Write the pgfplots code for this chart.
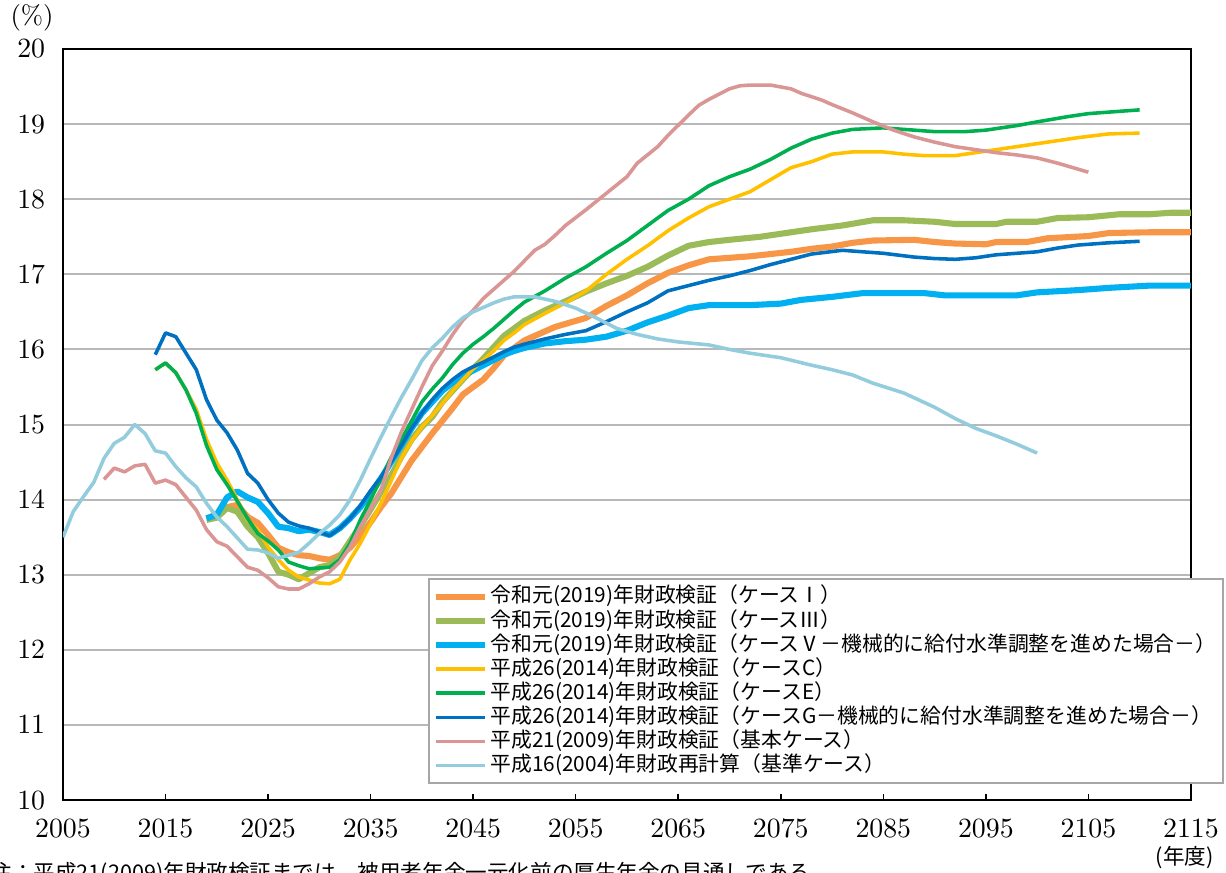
\documentclass[border=0pt]{standalone}
\usepackage{fontspec}
\usepackage{pgfplots}
\pgfplotsset{compat=1.18}
\newfontfamily\jp{Noto Sans CJK JP}

\definecolor{cI}{HTML}{F79646}
\definecolor{cIII}{HTML}{9BBB59}
\definecolor{cV}{HTML}{00B0F0}
\definecolor{cC}{HTML}{FFC000}
\definecolor{cE}{HTML}{00B050}
\definecolor{cG}{HTML}{0070C0}
\definecolor{cH21}{HTML}{D99694}
\definecolor{cH16}{HTML}{93CDDD}

\begin{document}
\begin{tikzpicture}
\begin{axis}[
  scale only axis,
  width=444.1pt, height=295.7pt,
  xmin=2005, xmax=2115, ymin=10, ymax=20,
  xtick={2005,2015,...,2115},
  ytick={10,11,...,20},
  xtick pos=bottom, ytick pos=left,
  tick align=inside,
  major tick length=2.2pt,
  ytick style={draw=none},
  xtick style={line width=0.6pt, black},
  ymajorgrids,
  grid style={draw=black!28, line width=0.8pt},
  axis line style={line width=0.8pt},
  tick label style={font=\fontsize{10.5}{12}\selectfont},
  xticklabel style={yshift=-4pt},
  yticklabel style={xshift=-3.5pt},
  /pgf/number format/1000 sep={},
  no markers,
  every axis plot/.append style={line join=round},
  legend cell align=left,
  legend style={
    at={(1.0295,0.2956)}, anchor=north east,
    draw=black!35, line width=0.8pt,
    font=\jp\fontsize{8.2}{9}\selectfont,
    inner xsep=1.5pt, inner ysep=2.2pt, row sep=0pt,
    nodes={text height=6.6pt, text depth=1.7pt, inner ysep=0.6pt, inner xsep=1.2pt},
  },
  legend image code/.code={\draw[#1] (0cm,0cm) -- (0.67cm,0cm);},
]

% 令和元(2019) ケースI
\addplot[cI, line width=2.4pt] coordinates {
(2019,13.75) (2020,13.8) (2021,13.9) (2022,13.93) (2023,13.77) (2024,13.69)
(2025,13.53) (2026,13.36) (2027,13.3) (2028,13.26) (2029,13.25) (2030,13.22)
(2031,13.2) (2032,13.26) (2033,13.36) (2034,13.52) (2035,13.7) (2036,13.9)
(2037,14.08) (2038,14.3) (2039,14.52) (2040,14.7) (2041,14.88) (2042,15.05)
(2043,15.22) (2044,15.4) (2045,15.5) (2046,15.6) (2047,15.75) (2048,15.92)
(2049,16.02) (2050,16.12) (2051,16.18) (2052,16.24) (2053,16.3) (2054,16.34)
(2055,16.38) (2056,16.42) (2057,16.5) (2058,16.58) (2060,16.72) (2062,16.88)
(2064,17.02) (2066,17.12) (2068,17.2) (2070,17.22) (2072,17.24) (2074,17.27)
(2076,17.3) (2078,17.34) (2080,17.37) (2082,17.42) (2084,17.45) (2088,17.46)
(2090,17.43) (2092,17.41) (2095,17.4) (2096,17.43) (2099,17.43) (2101,17.48)
(2105,17.51) (2107,17.55) (2111,17.56) (2115,17.56)
};
\addlegendentry{令和元(2019)年財政検証（ケースⅠ）}

% 令和元(2019) ケースIII
\addplot[cIII, line width=2.4pt] coordinates {
(2019,13.73) (2020,13.76) (2021,13.89) (2022,13.84) (2023,13.64) (2024,13.5)
(2025,13.29) (2026,13.04) (2027,13.0) (2028,12.94) (2029,13.02) (2030,13.1)
(2031,13.13) (2032,13.24) (2033,13.45) (2034,13.65) (2035,13.87) (2036,14.1)
(2037,14.32) (2038,14.57) (2039,14.8) (2040,14.97) (2041,15.1) (2042,15.3)
(2043,15.45) (2044,15.6) (2045,15.74) (2046,15.88) (2047,16.03) (2048,16.18)
(2049,16.28) (2050,16.38) (2052,16.52) (2054,16.64) (2056,16.77) (2058,16.88)
(2060,16.98) (2062,17.1) (2064,17.25) (2066,17.38) (2068,17.43) (2070,17.46)
(2073,17.5) (2076,17.56) (2078,17.6) (2081,17.65) (2084,17.72) (2087,17.72)
(2090,17.7) (2092,17.67) (2096,17.67) (2097,17.7) (2100,17.7) (2102,17.75)
(2105,17.76) (2108,17.8) (2111,17.8) (2113,17.82) (2115,17.82)
};
\addlegendentry{令和元(2019)年財政検証（ケースⅢ）}

% 令和元(2019) ケースV
\addplot[cV, line width=2.4pt] coordinates {
(2019,13.75) (2020,13.8) (2021,14.03) (2022,14.11) (2023,14.03) (2024,13.97)
(2025,13.82) (2026,13.64) (2027,13.62) (2028,13.58) (2029,13.6) (2030,13.57)
(2031,13.53) (2032,13.62) (2033,13.75) (2034,13.9) (2035,14.08) (2036,14.28)
(2037,14.5) (2038,14.72) (2039,14.95) (2040,15.15) (2041,15.3) (2042,15.45)
(2043,15.56) (2044,15.66) (2045,15.72) (2046,15.79) (2047,15.86) (2048,15.93)
(2049,15.98) (2050,16.02) (2052,16.08) (2054,16.11) (2056,16.13) (2058,16.17)
(2060,16.25) (2062,16.36) (2064,16.45) (2066,16.55) (2068,16.59) (2072,16.59)
(2075,16.61) (2077,16.66) (2080,16.7) (2083,16.75) (2089,16.75) (2091,16.72)
(2098,16.72) (2100,16.76) (2104,16.79) (2107,16.82) (2111,16.85) (2115,16.85)
};
\addlegendentry{令和元(2019)年財政検証（ケースⅤ－機械的に給付水準調整を進めた場合－）}

% 平成26(2014) ケースC
\addplot[cC, line width=1.4pt] coordinates {
(2014,15.73) (2015,15.82) (2016,15.69) (2017,15.46) (2018,15.2) (2019,14.8)
(2020,14.49) (2021,14.26) (2022,14.0) (2023,13.73) (2024,13.6) (2025,13.37)
(2026,13.2) (2027,13.06) (2028,12.97) (2029,12.93) (2030,12.89) (2031,12.88)
(2032,12.94) (2033,13.2) (2034,13.42) (2035,13.68) (2036,13.95) (2037,14.25)
(2038,14.55) (2039,14.78) (2040,14.97) (2041,15.12) (2042,15.28) (2043,15.45)
(2044,15.6) (2045,15.74) (2046,15.86) (2047,15.98) (2048,16.12) (2049,16.22)
(2050,16.33) (2052,16.48) (2054,16.62) (2056,16.78) (2058,17.0) (2060,17.2)
(2062,17.38) (2064,17.58) (2066,17.75) (2068,17.9) (2070,18.0) (2072,18.1)
(2074,18.26) (2076,18.42) (2078,18.5) (2080,18.6) (2082,18.63) (2085,18.63)
(2087,18.6) (2089,18.58) (2092,18.58) (2094,18.62) (2096,18.66) (2099,18.72)
(2102,18.78) (2104,18.82) (2107,18.87) (2110,18.88)
};
\addlegendentry{平成26(2014)年財政検証（ケースC）}

% 平成26(2014) ケースE
\addplot[cE, line width=1.4pt] coordinates {
(2014,15.73) (2015,15.82) (2016,15.69) (2017,15.46) (2018,15.15) (2019,14.72)
(2020,14.4) (2021,14.2) (2022,13.98) (2023,13.75) (2024,13.55) (2025,13.45)
(2026,13.33) (2027,13.17) (2028,13.12) (2029,13.08) (2030,13.09) (2031,13.1)
(2032,13.2) (2033,13.42) (2034,13.73) (2035,14.0) (2036,14.28) (2037,14.56)
(2038,14.8) (2039,15.05) (2040,15.3) (2041,15.47) (2042,15.62) (2043,15.8)
(2044,15.95) (2045,16.07) (2046,16.17) (2047,16.28) (2048,16.4) (2049,16.52)
(2050,16.63) (2052,16.78) (2054,16.95) (2056,17.1) (2058,17.28) (2060,17.45)
(2062,17.65) (2064,17.85) (2066,18.0) (2068,18.18) (2070,18.3) (2072,18.4)
(2074,18.53) (2076,18.68) (2078,18.8) (2080,18.88) (2082,18.93) (2085,18.95)
(2088,18.92) (2090,18.9) (2093,18.9) (2095,18.92) (2098,18.98) (2100,19.03)
(2103,19.1) (2105,19.14) (2108,19.17) (2110,19.19)
};
\addlegendentry{平成26(2014)年財政検証（ケースE）}

% 平成26(2014) ケースG
\addplot[cG, line width=1.4pt] coordinates {
(2014,15.93) (2015,16.22) (2016,16.17) (2017,15.95) (2018,15.73) (2019,15.33)
(2020,15.06) (2021,14.89) (2022,14.66) (2023,14.35) (2024,14.22) (2025,14.0)
(2026,13.82) (2027,13.7) (2028,13.65) (2029,13.62) (2030,13.57) (2031,13.52)
(2032,13.62) (2033,13.75) (2034,13.92) (2035,14.12) (2036,14.3) (2037,14.5)
(2038,14.72) (2039,14.95) (2040,15.15) (2041,15.33) (2042,15.48) (2043,15.6)
(2044,15.7) (2045,15.77) (2046,15.83) (2047,15.9) (2048,15.97) (2049,16.03)
(2050,16.07) (2052,16.14) (2054,16.2) (2056,16.25) (2058,16.37) (2060,16.5)
(2062,16.62) (2064,16.78) (2066,16.85) (2068,16.92) (2070,16.98) (2072,17.05)
(2074,17.13) (2076,17.2) (2078,17.27) (2081,17.32) (2083,17.3) (2085,17.28)
(2088,17.23) (2090,17.21) (2092,17.2) (2094,17.22) (2096,17.26) (2100,17.3)
(2102,17.35) (2104,17.39) (2107,17.42) (2110,17.44)
};
\addlegendentry{平成26(2014)年財政検証（ケースG－機械的に給付水準調整を進めた場合－）}

% 平成21(2009) 基本ケース
\addplot[cH21, line width=1.4pt] coordinates {
(2009,14.27) (2010,14.42) (2011,14.37) (2012,14.45) (2013,14.47) (2014,14.22)
(2015,14.26) (2016,14.2) (2017,14.03) (2018,13.86) (2019,13.6) (2020,13.44)
(2021,13.38) (2022,13.24) (2023,13.1) (2024,13.06) (2025,12.96) (2026,12.84)
(2027,12.81) (2028,12.81) (2029,12.88) (2030,12.97) (2031,13.04) (2032,13.17)
(2033,13.37) (2034,13.64) (2035,13.88) (2036,14.12) (2037,14.55) (2038,14.9)
(2039,15.2) (2040,15.5) (2041,15.78) (2042,15.98) (2043,16.2) (2044,16.39)
(2045,16.52) (2046,16.68) (2047,16.8) (2048,16.92) (2049,17.04) (2050,17.18)
(2051,17.32) (2052,17.4) (2053,17.52) (2054,17.65) (2056,17.86) (2058,18.08)
(2060,18.3) (2061,18.48) (2063,18.7) (2064,18.85) (2066,19.12) (2067,19.25)
(2068,19.33) (2070,19.47) (2071,19.51) (2072,19.52) (2074,19.52) (2076,19.47)
(2077,19.41) (2079,19.32) (2080,19.26) (2082,19.15) (2084,19.03) (2086,18.92)
(2088,18.83) (2090,18.76) (2092,18.7) (2094,18.66) (2096,18.62) (2098,18.59)
(2100,18.55) (2102,18.48) (2103,18.44) (2105,18.36)
};
\addlegendentry{平成21(2009)年財政検証（基本ケース）}

% 平成16(2004) 基準ケース
\addplot[cH16, line width=1.4pt] coordinates {
(2005,13.5) (2006,13.84) (2007,14.04) (2008,14.23) (2009,14.55) (2010,14.75)
(2011,14.83) (2012,15.0) (2013,14.88) (2014,14.65) (2015,14.62) (2016,14.44)
(2017,14.29) (2018,14.17) (2019,13.95) (2020,13.77) (2021,13.64) (2022,13.49)
(2023,13.34) (2024,13.33) (2025,13.29) (2026,13.22) (2027,13.26) (2028,13.3)
(2029,13.42) (2030,13.55) (2031,13.66) (2032,13.8) (2033,14.0) (2034,14.26)
(2035,14.55) (2036,14.83) (2037,15.1) (2038,15.36) (2039,15.6) (2040,15.85)
(2041,16.02) (2042,16.15) (2043,16.3) (2044,16.42) (2045,16.5) (2046,16.56)
(2047,16.62) (2048,16.67) (2049,16.7) (2051,16.7) (2053,16.64) (2055,16.55)
(2057,16.42) (2059,16.28) (2061,16.2) (2063,16.14) (2065,16.1) (2068,16.06)
(2070,16.0) (2072,15.95) (2075,15.89) (2078,15.79) (2080,15.73) (2082,15.66)
(2084,15.55) (2087,15.42) (2090,15.23) (2092,15.08) (2094,14.95) (2096,14.85)
(2098,14.74) (2100,14.62)
};
\addlegendentry{平成16(2004)年財政再計算（基準ケース）}

\end{axis}

\node[font=\fontsize{10.5}{12}\selectfont] at (-12.2pt,307.9pt) {(\%)};
\node[font=\jp\fontsize{8.5}{10}\selectfont] at (441.7pt,-22.8pt) {(年度)};
\node[font=\jp\fontsize{8.5}{10}\selectfont, anchor=north west, inner sep=0pt]
  at (-28.7pt,-24.4pt) {注：平成21(2009)年財政検証までは、被用者年金一元化前の厚生年金の見通しである。};

\pgfresetboundingbox
\useasboundingbox (-24.8pt,-28.35pt) rectangle (457.9pt,315pt);
\end{tikzpicture}
\end{document}
